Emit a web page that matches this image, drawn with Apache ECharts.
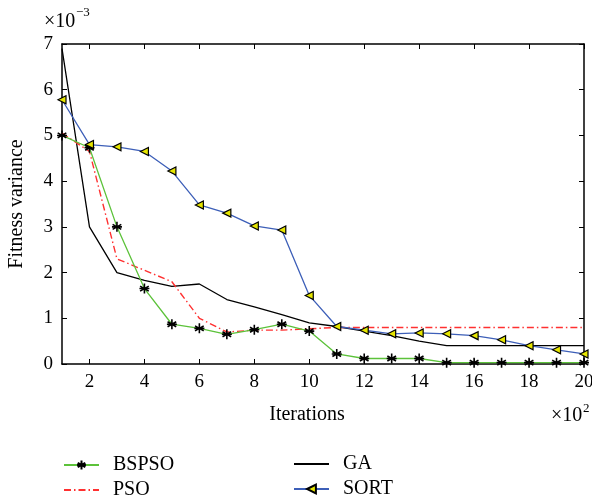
<!DOCTYPE html>
<html><head><meta charset="utf-8">
<script src="https://cdn.jsdelivr.net/npm/echarts@6/dist/echarts.min.js"></script>
<style>html,body{margin:0;padding:0;background:#fff}#c{width:592px;height:501px}</style>
</head><body><div id="c"></div>
<script>
const iterations = [1,2,3,4,5,6,7,8,9,10,11,12,13,14,15,16,17,18,19,20];
const bspso = [5.0,4.73,3.0,1.65,0.87,0.78,0.65,0.75,0.87,0.72,0.22,0.12,0.12,0.12,0.03,0.03,0.03,0.03,0.03,0.03];
const pso   = [5.05,4.65,2.3,2.05,1.8,1.0,0.7,0.74,0.74,0.77,0.8,0.8,0.8,0.8,0.8,0.8,0.8,0.8,0.8,0.8];
const ga    = [6.9,3.0,2.0,1.83,1.7,1.75,1.41,1.25,1.08,0.9,0.82,0.72,0.62,0.5,0.4,0.4,0.4,0.4,0.4,0.4];
const sort  = [5.78,4.8,4.75,4.65,4.22,3.48,3.3,3.02,2.93,1.5,0.82,0.74,0.66,0.68,0.66,0.62,0.53,0.4,0.31,0.22];
const xTicks = [2,4,6,8,10,12,14,16,18,20];

const FONT = 'Liberation Serif';
const asterisk = 'path://M0,-5L0,5M-4.33,-2.5L4.33,2.5M-4.33,2.5L4.33,-2.5M-5,0L5,0';
const pair = a => a.map((v,i)=>[iterations[i], v]);
const txt = (x,y,s,size,align,rot) => ({type:'text',x:x,y:y,rotation:rot||0,z:100,
  style:{text:s,fontFamily:FONT,fontSize:size,fill:'#000',align:align||'left',verticalAlign:'middle'}});

const chart = echarts.init(document.getElementById('c'));
const tick = {show:true,inside:true,length:5,lineStyle:{color:'#000',width:1}};
const line = {show:true,onZero:false,lineStyle:{color:'#000',width:1.5}};
const lbl = {color:'#000',fontFamily:FONT,fontSize:19};
chart.setOption({
  animation:false,
  backgroundColor:'#fff',
  grid:{left:62,right:8,top:44,bottom:137,containLabel:false,outerBoundsMode:'none'},
  xAxis:[
    {type:'value',min:1,max:20,position:'bottom',axisLine:line,splitLine:{show:false},
      axisTick:Object.assign({},tick,{customValues:xTicks}),
      axisLabel:Object.assign({},lbl,{customValues:xTicks,margin:9})},
    {type:'value',min:1,max:20,position:'top',axisLine:line,splitLine:{show:false},
      axisTick:Object.assign({},tick,{customValues:xTicks}),axisLabel:{show:false}}
  ],
  yAxis:[
    {type:'value',min:0,max:7,interval:1,position:'left',axisLine:line,splitLine:{show:false},
      axisTick:tick,axisLabel:Object.assign({},lbl,{margin:9})},
    {type:'value',min:0,max:7,interval:1,position:'right',axisLine:line,splitLine:{show:false},
      axisTick:tick,axisLabel:{show:false}}
  ],
  legend:[
    {data:[{name:'BSPSO'},{name:'PSO',itemStyle:{color:'rgba(0,0,0,0)',borderWidth:0,opacity:0}}],
      orient:'vertical',left:63,top:455,padding:0,itemWidth:35,itemHeight:11,itemGap:5,
      textStyle:{color:'#000',fontFamily:FONT,fontSize:20,lineHeight:20,padding:[0,0,0,9]}},
    {data:[{name:'GA',itemStyle:{color:'rgba(0,0,0,0)',borderWidth:0,opacity:0}},{name:'SORT'}],
      orient:'vertical',left:293,top:454,padding:0,itemWidth:35,itemHeight:11,itemGap:5,
      textStyle:{color:'#000',fontFamily:FONT,fontSize:20,lineHeight:20,padding:[0,0,0,9]}}
  ],
  graphic:[
    txt(44,22,'×10',20),
    txt(76,13,'−3',13),
    txt(551,416,'×10',20),
    txt(583,409,'2',13),
    txt(307,415,'Iterations',20,'center'),
    txt(17,204,'Fitness variance',20,'center',Math.PI/2)
  ],
  series:[
    {name:'GA',type:'line',data:pair(ga),symbol:'none',z:2,
      lineStyle:{color:'#000',width:1.3},itemStyle:{color:'#000'}},
    {name:'PSO',type:'line',data:pair(pso),symbol:'none',z:3,
      lineStyle:{color:'#ff3030',width:1.4,type:[7,3,1.5,3]},itemStyle:{color:'#ff3030'}},
    {name:'BSPSO',type:'line',data:pair(bspso),symbol:asterisk,symbolSize:10,z:4,
      lineStyle:{color:'#5cc23a',width:1.3},
      itemStyle:{color:'#000',borderColor:'#000',borderWidth:1.6}},
    {name:'SORT',type:'line',data:pair(sort),symbol:'triangle',symbolSize:[8,8],symbolRotate:90,z:5,
      lineStyle:{color:'#3d5fb8',width:1.3},
      itemStyle:{color:'#e6e600',borderColor:'#000',borderWidth:1.2}}
  ]
});
</script></body></html>
